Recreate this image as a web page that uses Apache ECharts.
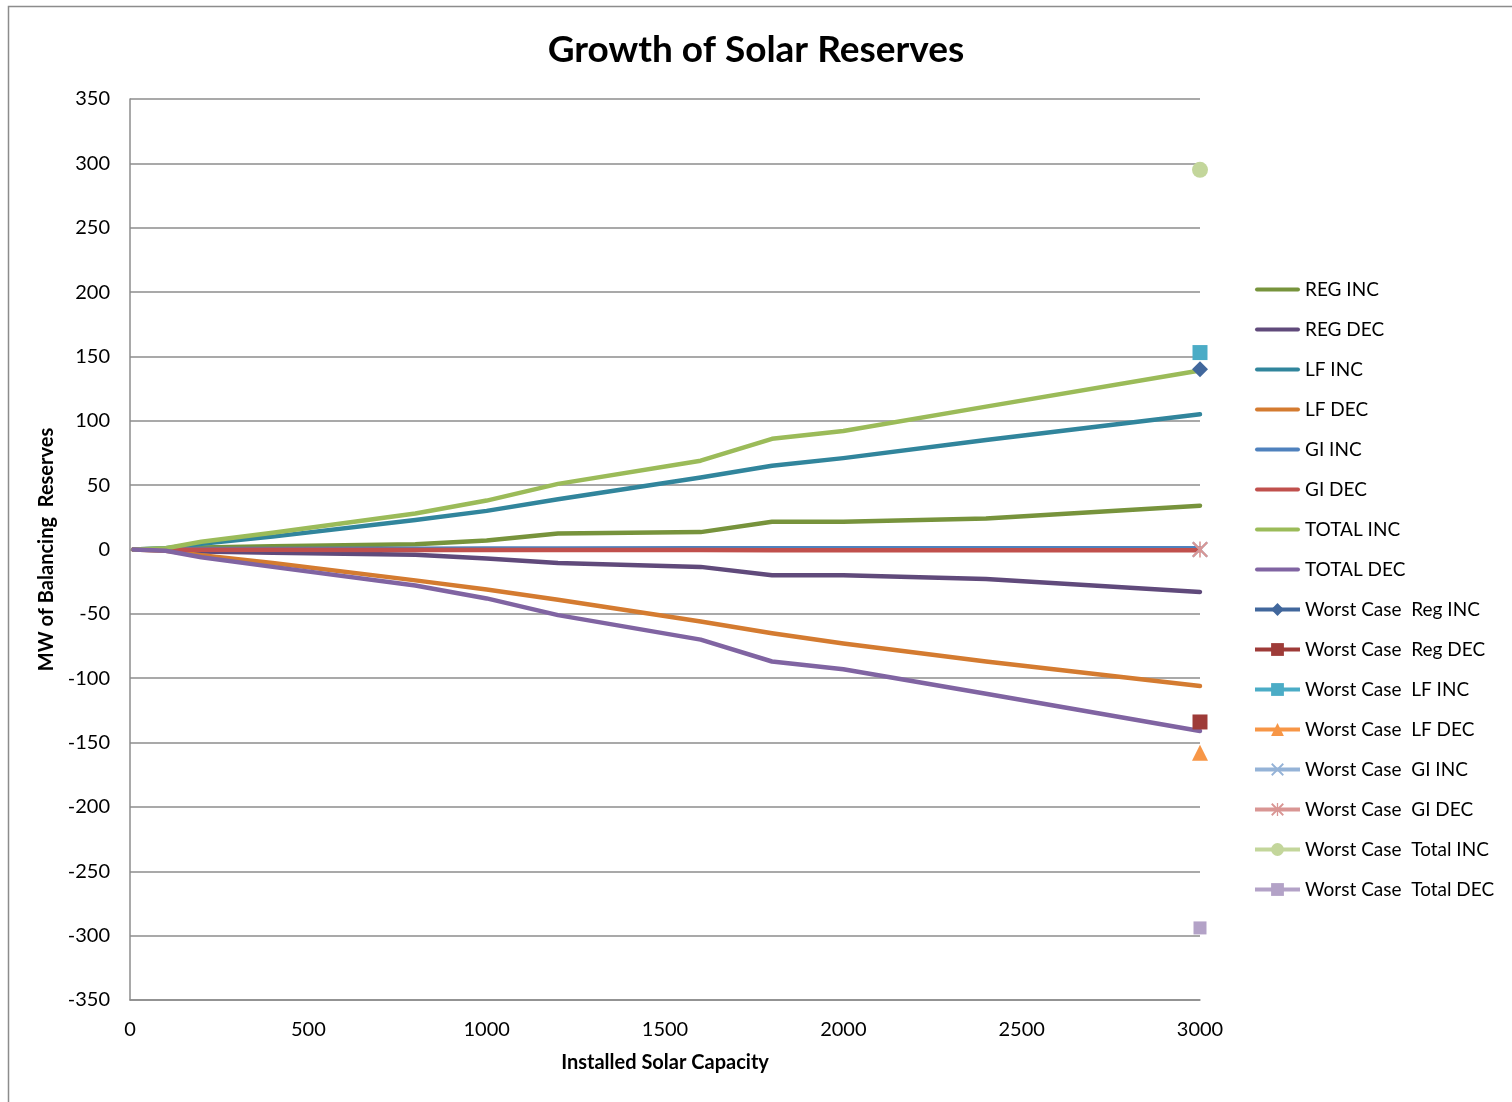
<!DOCTYPE html>
<html>
<head>
<meta charset="utf-8">
<script src="https://cdn.jsdelivr.net/npm/echarts@6/dist/echarts.min.js"></script>
<style>
  html, body { margin: 0; padding: 0; background: #fff; }
  #chart { width: 1512px; height: 1102px; }
</style>
</head>
<body>
<div id="chart"></div>
<script>
// installed solar capacity (x values)
const capacity = [10, 100, 200, 400, 800, 1000, 1200, 1600, 1800, 2000, 2400, 3000];

const regInc = [0, 0.5, 1.5, 2.5, 4, 7, 12.5, 13.5, 21.5, 21.5, 24, 34];
const regDec = [0, -0.5, -1.5, -2.5, -4, -7, -10.5, -13.5, -20, -20, -23, -33];
const lfInc = [0, 1, 4.5, 10, 23, 30, 39, 56, 65, 71, 85, 105];
const lfDec = [0, -1, -4.5, -10.5, -24, -31, -39, -56, -65, -73, -87, -106];
const giInc = [0, 0.2, 0.3, 0.4, 0.6, 0.7, 0.8, 0.9, 1, 1, 1, 1];
const giDec = [0, -0.1, -0.2, -0.2, -0.3, -0.3, -0.4, -0.4, -0.5, -0.5, -0.5, -0.5];
const totalInc = [0, 1, 6, 13, 28, 38, 51, 69, 86, 92, 111, 139];
const totalDec = [0, -1, -6, -13.5, -28, -38, -51, -70, -87, -93, -112, -141];

// worst case points, all at 3000
const worstX = 3000;
const worstNames = ['Worst Case  Reg INC', 'Worst Case  Reg DEC', 'Worst Case  LF INC', 'Worst Case  LF DEC',
  'Worst Case  GI INC', 'Worst Case  GI DEC', 'Worst Case  Total INC', 'Worst Case  Total DEC'];
const worstValues = [140, -134, 153, -158, 0, 0, 295, -294];

const lineNames = ['REG INC', 'REG DEC', 'LF INC', 'LF DEC', 'GI INC', 'GI DEC', 'TOTAL INC', 'TOTAL DEC'];
const lineData = [regInc, regDec, lfInc, lfDec, giInc, giDec, totalInc, totalDec];
const lineColors = ['#77933C', '#604A7B', '#31859C', '#D47B30', '#4F81BD', '#C0504D', '#9BBB59', '#8064A2'];

const worstColors = ['#41679C', '#9E3B38', '#4BACC6', '#F79646', '#95B3D7', '#D99694', '#C3D69B', '#B3A2C7'];
const crossPath = 'path://M0,1 L1,0 L10,9 L9,10 Z M9,0 L10,1 L1,10 L0,9 Z';
const starPath = 'path://M0,1 L1,0 L10,9 L9,10 Z M9,0 L10,1 L1,10 L0,9 Z M4.5,0 L5.5,0 L5.5,10 L4.5,10 Z';
const worstSymbols = ['diamond', 'rect', 'rect', 'triangle', crossPath, starPath, 'circle', 'rect'];
const worstSizes = [16, 15, 15, 16, 16, 16, 16, 13];

const font = 'Lato, "Open Sans", sans-serif';
// plain thick bar for legend of line-only series
const barIcon = 'path://M2,0 L43,0 A2,2 0 0 1 43,4 L2,4 A2,2 0 0 1 2,0 Z';

function pairs(xs, ys) {
  let arr = [];
  for (let i = 0; i < xs.length; i++) {
    arr.push([xs[i], ys[i]]);
  }
  return arr;
}

let series = [];
let legendData = [];
lineNames.forEach(function (name, i) {
  series.push({
    name: name,
    type: 'line',
    data: pairs(capacity, lineData[i]),
    symbol: 'none',
    color: lineColors[i],
    lineStyle: { width: 4.5, color: lineColors[i], cap: 'round', join: 'round' },
    z: 2 + i
  });
  legendData.push({ name: name, icon: barIcon });
});
worstNames.forEach(function (name, i) {
  series.push({
    name: name,
    type: 'line',
    data: [[worstX, worstValues[i]]],
    symbol: worstSymbols[i],
    symbolSize: worstSizes[i],
    showSymbol: true,
    color: worstColors[i],
    itemStyle: { color: worstColors[i] },
    lineStyle: { width: 4.5, color: worstColors[i] },
    z: 20 + i
  });
  legendData.push({ name: name });
});

const chart = echarts.init(document.getElementById('chart'));
chart.setOption({
  animation: false,
  backgroundColor: '#fff',
  graphic: [{
    type: 'rect',
    shape: { x: 8.5, y: 6.5, width: 1520, height: 1120 },
    style: { fill: 'none', stroke: '#8c8c8c', lineWidth: 1.5 },
    silent: true
  }],
  title: {
    text: 'Growth of Solar Reserves',
    left: 'center',
    top: 27,
    textStyle: { fontFamily: font, fontSize: 37, fontWeight: 'bold', color: '#000' }
  },
  legend: {
    orient: 'vertical',
    left: 1248,
    top: 275,
    itemWidth: 45,
    itemHeight: 16,
    itemGap: 21,
    lineStyle: { width: 4 },
    textStyle: { fontFamily: font, fontSize: 19, color: '#000' },
    data: legendData
  },
  grid: { left: 130, right: 312, top: 99, bottom: 102, containLabel: false },
  xAxis: {
    type: 'value',
    min: 0,
    max: 3000,
    interval: 500,
    name: 'Installed Solar Capacity',
    nameLocation: 'middle',
    nameGap: 53,
    nameTextStyle: { fontFamily: font, fontSize: 20, fontWeight: 'bold', color: '#000' },
    axisLine: { onZero: false, lineStyle: { color: '#8c8c8c', width: 1.5 } },
    axisTick: { show: false },
    axisLabel: {
      fontFamily: font, fontSize: 20, color: '#000', margin: 20,
      formatter: function (v) { return String(v); }
    },
    splitLine: { show: false }
  },
  yAxis: {
    type: 'value',
    min: -350,
    max: 350,
    interval: 50,
    name: 'MW of Balancing  Reserves',
    nameLocation: 'middle',
    nameGap: 70,
    nameTextStyle: { fontFamily: font, fontSize: 20, fontWeight: 'bold', color: '#000' },
    axisLine: { show: true, lineStyle: { color: '#8c8c8c', width: 1.5 } },
    axisTick: { show: false },
    axisLabel: {
      fontFamily: font, fontSize: 20, color: '#000', margin: 20,
      formatter: function (v) { return String(v); }
    },
    splitLine: { lineStyle: { color: '#8c8c8c', width: 1.5 } }
  },
  series: series
});
</script>
</body>
</html>
